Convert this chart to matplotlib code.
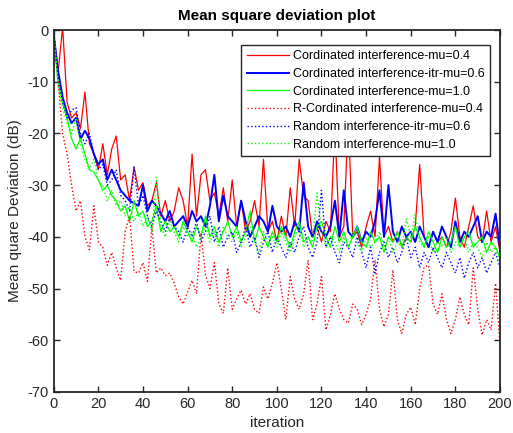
import numpy as np
import matplotlib
matplotlib.use("Agg")
import matplotlib.pyplot as plt

plt.rcParams['font.family'] = ['Liberation Sans', 'DejaVu Sans']
plt.rcParams['axes.unicode_minus'] = False

# iterations sampled every 2 steps
iteration = np.arange(0, 201, 2)

coord_mu04 = [-4, -8, 0.5, -14, -17, -16, -19, -12, -22, -24,
              -27, -22, -28, -23, -20.5, -29, -28, -33, -26.5, -31,
              -29.5, -34, -33, -29.5, -36, -33, -37, -35, -30.5, -33,
              -38, -24, -36, -28, -27, -33, -31.5, -36, -30.5, -37,
              -29, -38, -33, -39, -37, -33, -38, -25, -39, -37,
              -41, -36, -40, -30.5, -38, -25, -32, -33, -40, -38,
              -41, -37, -39, -18.5, -40, -38, -17, -40, -39, -42,
              -38, -35, -40, -24.5, -40, -38, -41, -39, -42, -40,
              -41, -38, -26, -40, -42, -39, -41, -40, -42, -39,
              -32.5, -40, -42, -38, -34, -40, -41, -35, -41, -38,
              -43]

coord_itr_mu06 = [-1, -8, -13, -16, -18, -17, -21, -19.5, -21, -24,
                  -26, -25, -29, -27, -29, -31, -32, -33, -33.5, -34,
                  -30, -35, -33, -34, -35.5, -37, -35, -38, -37, -36,
                  -38, -35, -37, -36, -38, -34, -28, -37, -32, -36,
                  -37, -38, -33, -37, -40, -38, -36, -37, -39, -34,
                  -38, -39, -38, -40, -37, -39, -29.5, -38, -40, -37,
                  -39, -40, -38, -33, -40, -31, -39, -40, -38, -41,
                  -39, -40, -37, -31, -40, -30, -39, -41, -38, -40,
                  -39, -41, -38, -40, -42, -39, -41, -38, -40, -42,
                  -37, -41, -39, -40, -38, -36, -41, -39, -40, -35.5,
                  -42]

coord_mu10 = [-1, -10, -14, -17, -21, -23, -21, -24, -27, -27.5,
              -29, -31, -30, -32, -33, -35, -34, -37, -33, -36,
              -35, -38, -37, -34, -39, -37, -39, -38, -40, -37,
              -39, -41, -38, -40, -36, -40, -38, -41, -39, -37,
              -40, -38, -41, -39, -35, -41, -38, -40, -42, -39,
              -41, -38, -40, -42, -39, -37, -41, -40, -42, -38,
              -37, -40, -42, -38, -41, -39, -42, -40, -38, -41,
              -42, -39, -41, -40, -43, -40, -41, -39, -42, -40,
              -41, -38, -40, -42, -39, -41, -43, -40, -42, -41,
              -38, -42, -40, -39, -42, -41, -40, -43, -41, -42,
              -44]

rcoord_mu04 = [0, -10, -20, -24, -30, -35, -33, -40, -42.5, -34,
               -41, -42, -45.5, -43, -46, -48.4, -39, -36, -46.7, -47,
               -45, -48.6, -38, -47, -46, -47.5, -47, -49, -51.6, -53,
               -50.7, -48.4, -51, -39.3, -47.4, -50, -45, -52.9, -54.8, -46,
               -54, -52, -50.3, -53, -51, -54, -54.8, -49.7, -52, -49,
               -45, -50, -56, -47.7, -52, -54, -51, -44.5, -56, -53,
               -47.7, -58, -55, -51, -54, -56, -56.7, -53, -54, -57,
               -55, -52, -44.5, -54, -57.4, -55, -46.4, -56, -58.7, -55,
               -53.6, -57, -50, -45.8, -45.5, -53, -55, -51, -56, -58.7,
               -56, -51.6, -55, -57, -46, -54, -59, -56, -58, -49,
               -61]

random_itr_mu06 = [0, -9, -14, -17, -15.5, -15, -20, -22, -20, -24,
                   -27, -26, -30, -29, -27, -32, -33, -35, -26.5, -34,
                   -32, -36, -38, -35, -37, -39, -36, -38, -39, -41,
                   -38, -40, -37, -41, -39, -36, -41, -38, -42, -40,
                   -39, -43, -41, -38, -42, -40, -44, -41, -39, -43,
                   -40, -42, -44, -41, -43, -40, -38, -42, -44, -41,
                   -31, -42, -40, -43, -45, -41, -42, -44, -40, -43,
                   -46, -42, -47, -43, -41, -44, -42, -45, -43, -40,
                   -44, -42, -46, -43, -45, -42, -44, -46, -43, -45,
                   -47, -44, -48, -45, -43, -46, -44, -47, -45, -43,
                   -46]

random_mu10 = [-1, -11, -15, -18, -20, -17, -22, -25, -27, -25,
               -29, -30, -33, -31, -34, -33, -36, -34, -37, -35,
               -38, -36, -39, -28.5, -38, -40, -37, -39, -41, -38,
               -40, -39, -42, -40, -38, -41, -39, -42, -38, -40,
               -41, -39, -42, -40, -38, -41, -43, -39, -41, -40,
               -42, -39, -41, -43, -40, -38, -42, -40, -41, -31.5,
               -39, -42, -40, -41, -43, -40, -42, -39, -41, -43,
               -40, -42, -41, -39, -42, -40, -43, -41, -42, -36.5,
               -40, -35.5, -41, -42, -40, -43, -41, -42, -40, -43,
               -41, -42, -40, -43, -41, -42, -44, -41, -43, -42,
               -45]

fig = plt.figure(figsize=(5.13, 4.33), dpi=100)
ax = fig.add_axes([0.1047, 0.0947, 0.87, 0.836])

ax.plot(iteration, coord_mu04, color='red', lw=0.9, label='Cordinated interference-mu=0.4')
ax.plot(iteration, coord_itr_mu06, color='blue', lw=1.4, label='Cordinated interference-itr-mu=0.6')
ax.plot(iteration, coord_mu10, color='#00ff00', lw=0.9, label='Cordinated interference-mu=1.0')
ax.plot(iteration, rcoord_mu04, color='red', lw=1, ls=':', label='R-Cordinated interference-mu=0.4')
ax.plot(iteration, random_itr_mu06, color='blue', lw=1, ls=':', label='Random interference-itr-mu=0.6')
ax.plot(iteration, random_mu10, color='#00ff00', lw=1, ls=':', label='Random interference-mu=1.0')

ax.set_xlim(0, 200)
ax.set_ylim(-70, 0)
ax.set_xticks(np.arange(0, 201, 20))
ax.set_yticks(np.arange(-70, 1, 10))
ax.tick_params(direction='in', top=True, right=True, labelsize=10.5,
               length=4, width=1, colors='#262626')
for s in ax.spines.values():
    s.set_linewidth(1.3)
    s.set_color('#262626')

ax.set_title('Mean square deviation plot', fontsize=11, fontweight='bold', pad=7)
ax.set_xlabel('iteration', fontsize=11, color='#262626')
ax.set_ylabel('Mean quare Deviation (dB)', fontsize=11, color='#262626')

leg = ax.legend(loc='upper right', bbox_to_anchor=(0.978, 0.959), fontsize=9,
                fancybox=False, framealpha=1, edgecolor='#262626',
                handlelength=3.4, handletextpad=0.3, labelspacing=0.45,
                borderpad=0.45, borderaxespad=0)
leg.get_frame().set_linewidth(1)

fig.savefig('out.png', dpi=100)
